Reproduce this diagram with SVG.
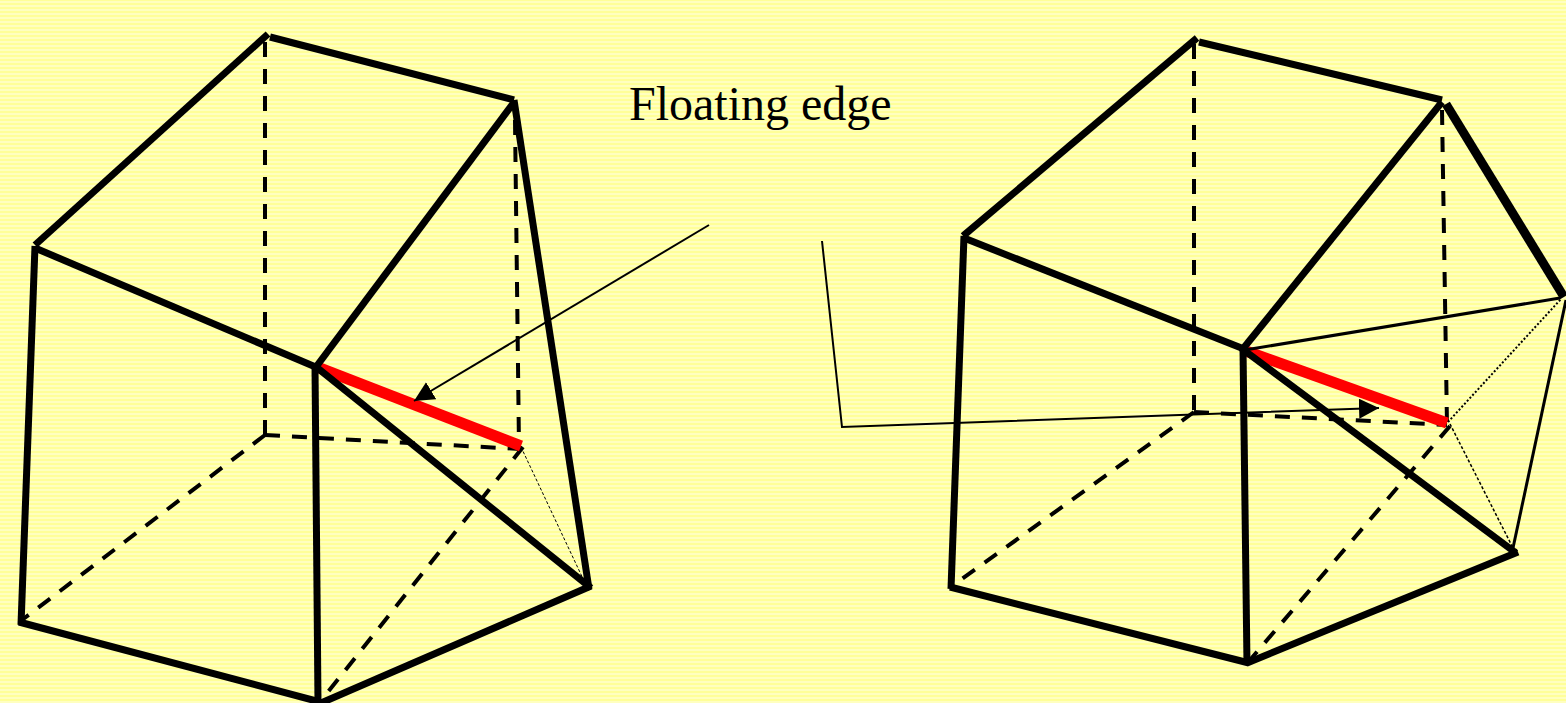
<svg xmlns="http://www.w3.org/2000/svg" width="1566" height="703" viewBox="0 0 1566 703">
<style>
.s{fill:none;stroke:#000;stroke-linecap:butt}
.b{stroke-width:7}
.d{stroke-width:4;stroke-dasharray:15 12;stroke-linecap:butt}
.t{stroke-width:1;stroke-dasharray:3 2;stroke-linecap:butt}
.r{fill:none;stroke:#f00;stroke-width:11;stroke-linecap:butt}
.a{stroke-width:2;stroke-linecap:butt}
text{font-family:"Liberation Serif","Times New Roman",serif;font-size:48px;fill:#000}
</style>
<defs>
<pattern id="bg" width="4" height="4" patternUnits="userSpaceOnUse">
<rect width="4" height="4" fill="#ffff99"/>
<rect y="1" width="4" height="2" fill="#ffffc0"/>
</pattern>
<marker id="ah" markerUnits="userSpaceOnUse" markerWidth="22" markerHeight="20" refX="20" refY="10" orient="auto">
<path d="M0 0L20 10L0 20Z" fill="#000"/>
</marker>
</defs>
<rect id="background" width="1566" height="703" fill="url(#bg)"/>
<g id="left-hidden">
<path class="s d" d="M265 42V435"/>
<path class="s d" d="M515 120L519 447"/>
<path class="s d" d="M265 435L520 449"/>
<path class="s d" d="M265 435L22 620"/>
<path class="s d" d="M523 447L320 702"/>
<path class="s t" d="M521 447L585 583"/>
<line class="r" x1="317" y1="367" x2="521" y2="446"/>
</g>
<g id="left-solid">
<path class="s b" d="M270 37L514 100"/>
<path class="s b" d="M268 34L35 245"/>
<path class="s b" d="M515 101L316 367"/>
<path class="s b" d="M35 248L318 368"/>
<path class="s b" d="M35 246L21 625"/>
<path class="s b" d="M19 622L320 702"/>
<path class="s b" d="M315 366L318 703"/>
<path class="s b" d="M315 366L591 588"/>
<path class="s b" d="M514 100L589 589"/>
<path class="s b" d="M591 586L321 703"/>
</g>
<g id="right-hidden">
<path class="s d" d="M1194 44V412"/>
<path class="s d" d="M1442 110L1447 425"/>
<path class="s d" d="M1194 412L1447 425"/>
<path class="s d" d="M1194 412L955 584"/>
<path class="s d" d="M1450 426L1250 660"/>
<path class="s t" style="stroke-width:1.5" d="M1450 424L1513 548"/>
<path class="s" style="stroke-width:2;stroke-dasharray:2 2" d="M1448 422L1561 299"/>
<line class="r" x1="1243" y1="350" x2="1447" y2="423"/>
</g>
<g id="right-solid">
<path class="s b" d="M1199 42L1442 100"/>
<path class="s b" d="M1197 38L963 236"/>
<path class="s b" d="M1442 102L1242 350"/>
<path class="s b" d="M964 238L1244 349"/>
<path class="s b" d="M964 236L951 589"/>
<path class="s b" d="M950 587L1249 663"/>
<path class="s b" d="M1243 348L1247 665"/>
<path class="s b" d="M1241 348L1516 553"/>
<path class="s b" d="M1518 552L1247 663"/>
<path class="s" style="stroke-width:9" d="M1446 104L1564 297"/>
<path class="s" style="stroke-width:3" d="M1566 300L1513 548"/>
<path class="s" style="stroke-width:3" d="M1245 350L1560 298"/>
</g>
<g id="connectors">
<path class="s a" d="M709 225L414 401" marker-end="url(#ah)"/>
<path class="s a" d="M822 241L842 427L1379 408" marker-end="url(#ah)"/>
</g>
<g id="label">
<text x="629" y="120">Floating edge</text>
</g>
</svg>
